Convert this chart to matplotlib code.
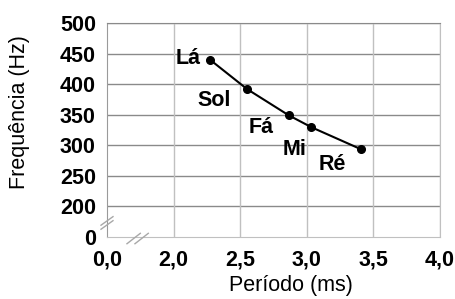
import matplotlib.pyplot as plt
plt.switch_backend('agg')

plt.rcParams['font.family'] = ['Liberation Sans', 'DejaVu Sans']

# notas musicais: periodo (ms) e frequencia (Hz)
notas = ['Lá', 'Sol', 'Fá', 'Mi', 'Ré']
periodo = [2.273, 2.551, 2.863, 3.034, 3.405]
freq = [440.0, 392.0, 349.2, 329.6, 293.7]
# deslocamento dos rotulos (pixels)
desloc = [(-9, 1), (-16, -11), (-15, -12), (-5, -22), (-15, -15)]

xticks = [1.5, 2.0, 2.5, 3.0, 3.5, 4.0]
xlabels = ['0,0', '2,0', '2,5', '3,0', '3,5', '4,0']
yticks = [150, 200, 250, 300, 350, 400, 450, 500]
ylabels = ['0', '200', '250', '300', '350', '400', '450', '500']

fig = plt.figure(figsize=(4.56, 2.99), dpi=100)
ax = fig.add_axes([107/456, 1-237/299, 333/456, 214/299])

ax.set_xlim(1.5, 4.0)
ax.set_ylim(150, 500)
ax.set_xticks(xticks)
ax.set_xticklabels(xlabels, fontweight='bold', fontsize=15.5)
ax.set_yticks(yticks)
ax.set_yticklabels(ylabels, fontweight='bold', fontsize=15.5)
ax.tick_params(length=0, pad=8)
ax.tick_params(axis='x', pad=9)

# grade: horizontais mais escuras, verticais claras
for y in yticks[1:]:
    ax.axhline(y, color='#8a8a8a', lw=1, zorder=1)
for x in xticks[1:]:
    ax.axvline(x, color='#c0c0c0', lw=1, zorder=1)
ax.spines['left'].set_color('#9a9a9a')
ax.spines['bottom'].set_color('#c0c0c0')
ax.spines['top'].set_color('#8a8a8a')
ax.spines['right'].set_color('#c0c0c0')

ax.plot(periodo, freq, color='black', lw=1.5, marker='o', markersize=5.5,
        zorder=3, clip_on=False)
for n, px, fy, d in zip(notas, periodo, freq, desloc):
    ax.annotate(n, (px, fy), xytext=d, textcoords='offset pixels',
                ha='right', va='center', fontweight='bold', fontsize=15.5)

# marcas de quebra nos eixos
for dy in (-3.3, 3.3):
    ax.plot([1.5 - 0.045, 1.5 + 0.045], [173 - 7 + dy, 173 + 7 + dy],
            color='#a8a8a8', lw=1, clip_on=False, zorder=4)
for dx in (-0.03, 0.03):
    ax.plot([1.73 - 0.05 + dx, 1.73 + 0.05 + dx], [150 - 11, 150 + 6],
            color='#a8a8a8', lw=1, clip_on=False, zorder=4)

ax.set_xlabel('Período (ms)', fontsize=15.5, va='center')
ax.xaxis.set_label_coords((291 - 107) / 333, (237 - 286) / 214)
ax.set_ylabel('Frequência (Hz)', fontsize=15.5, va='center')
ax.yaxis.set_label_coords((20 - 107) / 333, (237 - 112) / 214)

fig.savefig('out.png', dpi=100)
